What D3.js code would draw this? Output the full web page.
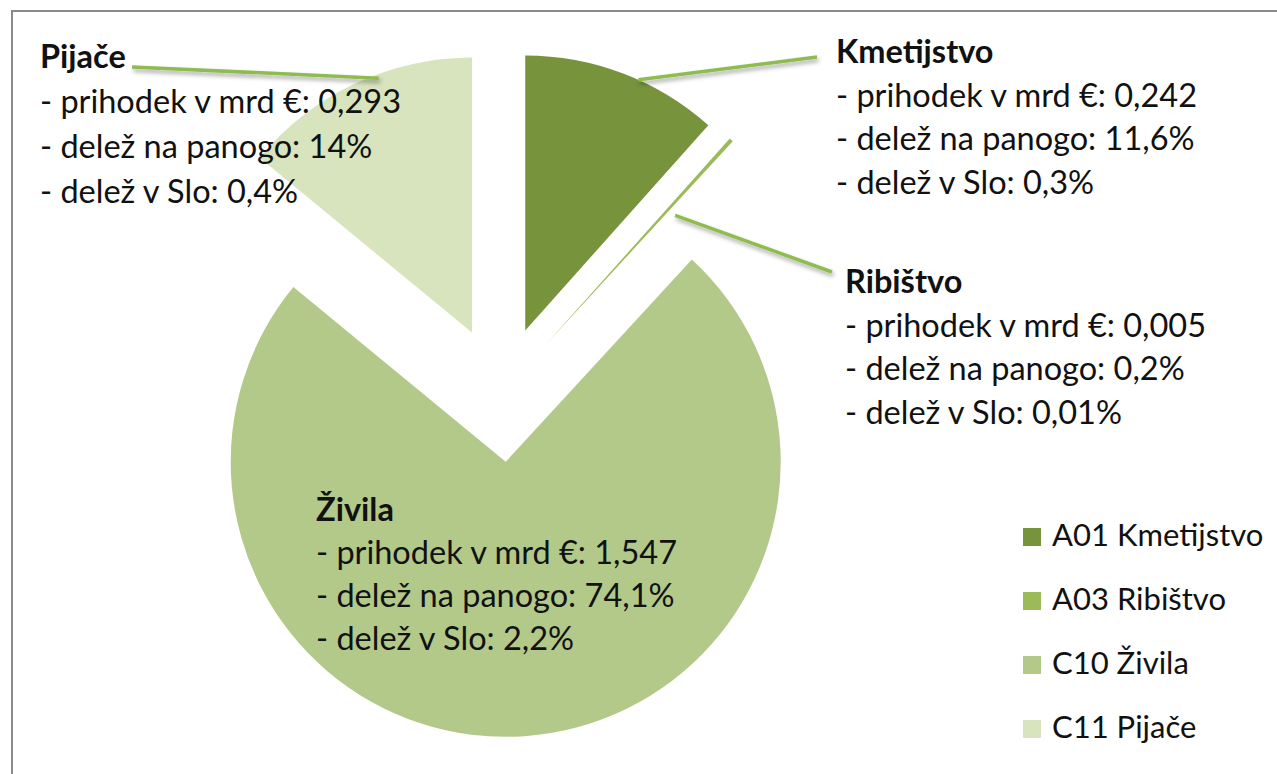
<!DOCTYPE html>
<html>
<head>
<meta charset="utf-8">
<script src="https://cdn.jsdelivr.net/npm/d3@7"></script>
<style>
  html, body { margin: 0; padding: 0; background: #fff; }
  svg { display: block; font-family: Lato, "Open Sans", sans-serif; }
</style>
</head>
<body>
<div id="chart"></div>
<script>
// podatki
const kategorije = ["Kmetijstvo", "Ribištvo", "Živila", "Pijače"];
const sifre = ["A01", "A03", "C10", "C11"];
const prihodek = [0.242, 0.005, 1.547, 0.293];      // mrd €
const delezPanoga = [11.6, 0.2, 74.1, 14];          // %
const delezSlo = [0.3, 0.01, 2.2, 0.4];             // %
const barve = ["#77933c", "#9bbb59", "#b3c98a", "#d7e4bd"];

const width = 1277, height = 774;
const cx = 501, cy = 394, radij = 275, odmik = 68;

const svg = d3.select("#chart").append("svg")
  .attr("width", width)
  .attr("height", height);

// senca za povezovalne črte
const defs = svg.append("defs");
defs.append("filter").attr("id", "senca")
  .attr("x", "-20%").attr("y", "-50%").attr("width", "140%").attr("height", "250%")
  .append("feDropShadow")
  .attr("dx", 1.5).attr("dy", 3).attr("stdDeviation", 2)
  .attr("flood-color", "#000").attr("flood-opacity", 0.35);

// okvir
svg.append("rect")
  .attr("x", 12).attr("y", 11)
  .attr("width", 1400).attr("height", 900)
  .attr("fill", "none")
  .attr("stroke", "#8a8a8a")
  .attr("stroke-width", 2);

const podatki = kategorije.map((k, i) => ({
  ime: k, sifra: sifre[i], vrednost: prihodek[i],
  panoga: delezPanoga[i], slo: delezSlo[i], barva: barve[i]
}));

const pie = d3.pie().sort(null).value(d => d.vrednost);
const arc = d3.arc().innerRadius(0).outerRadius(radij);
const loki = pie(podatki);
const sredina = d => (d.startAngle + d.endAngle) / 2;

const g = svg.append("g").attr("transform", `translate(${cx},${cy})`);

g.selectAll("path")
  .data(loki)
  .enter()
  .append("path")
  .attr("transform", d => `translate(${d3.pointRadial(sredina(d), odmik)})`)
  .attr("d", arc)
  .attr("fill", d => d.data.barva);

// oznake
const fmt = d3.formatLocale({ decimal: ",", thousands: ".", grouping: [3], currency: ["", "€"] });
const f3 = fmt.format(".3f");
const pct = v => String(v).replace(".", ",") + "%";

// položaj oznak (levi rob, osnovnica naslova) in povezovalnih črt
const oznakePoz = [
  { x: 836, y: 63, vr: 43.5, crta: [817, 57], kot: 0.06, r: 1.0 },
  { x: 845, y: 293, vr: 43.5, crta: [832, 272], kot: 0.05, r: 0.66 },
  { x: 316, y: 521, vr: 43, crta: null },
  { x: 40, y: 68, vr: 45, crta: [132, 67], kot: 0.09, r: 0.985 }
];

loki.forEach((d, i) => {
  const p = oznakePoz[i];
  if (p.crta) {
    const o = d3.pointRadial(sredina(d), odmik);
    const t = d3.pointRadial(sredina(d) + p.kot, radij * p.r);
    svg.append("line")
      .attr("x1", p.crta[0]).attr("y1", p.crta[1])
      .attr("x2", cx + o[0] + t[0]).attr("y2", cy + o[1] + t[1])
      .attr("stroke", "#8fbc4f")
      .attr("stroke-width", 3.5)
      .attr("filter", "url(#senca)");
  }
  const txt = svg.append("text")
    .attr("x", p.x).attr("y", p.y)
    .attr("fill", "#111")
    .attr("font-size", 32.5);
  const vrstice = [
    d.data.ime,
    "- prihodek v mrd €: " + f3(d.data.vrednost),
    "- delež na panogo: " + pct(d.data.panoga),
    "- delež v Slo: " + pct(d.data.slo)
  ];
  vrstice.forEach((v, j) => {
    txt.append("tspan")
      .attr("x", p.x)
      .attr("y", p.y + j * p.vr)
      .attr("font-weight", j === 0 ? "bold" : "normal")
      .text(v);
  });
});

// legenda
const legenda = svg.append("g").attr("transform", "translate(1023,528)");
const vnos = legenda.selectAll("g")
  .data(podatki)
  .enter()
  .append("g")
  .attr("transform", (d, i) => `translate(0,${i * 64})`);
vnos.append("rect")
  .attr("width", 18).attr("height", 18)
  .attr("fill", d => d.barva);
vnos.append("text")
  .attr("x", 29).attr("y", 18)
  .attr("font-size", 31)
  .attr("fill", "#111")
  .text(d => d.sifra + " " + d.ime);
</script>
</body>
</html>
